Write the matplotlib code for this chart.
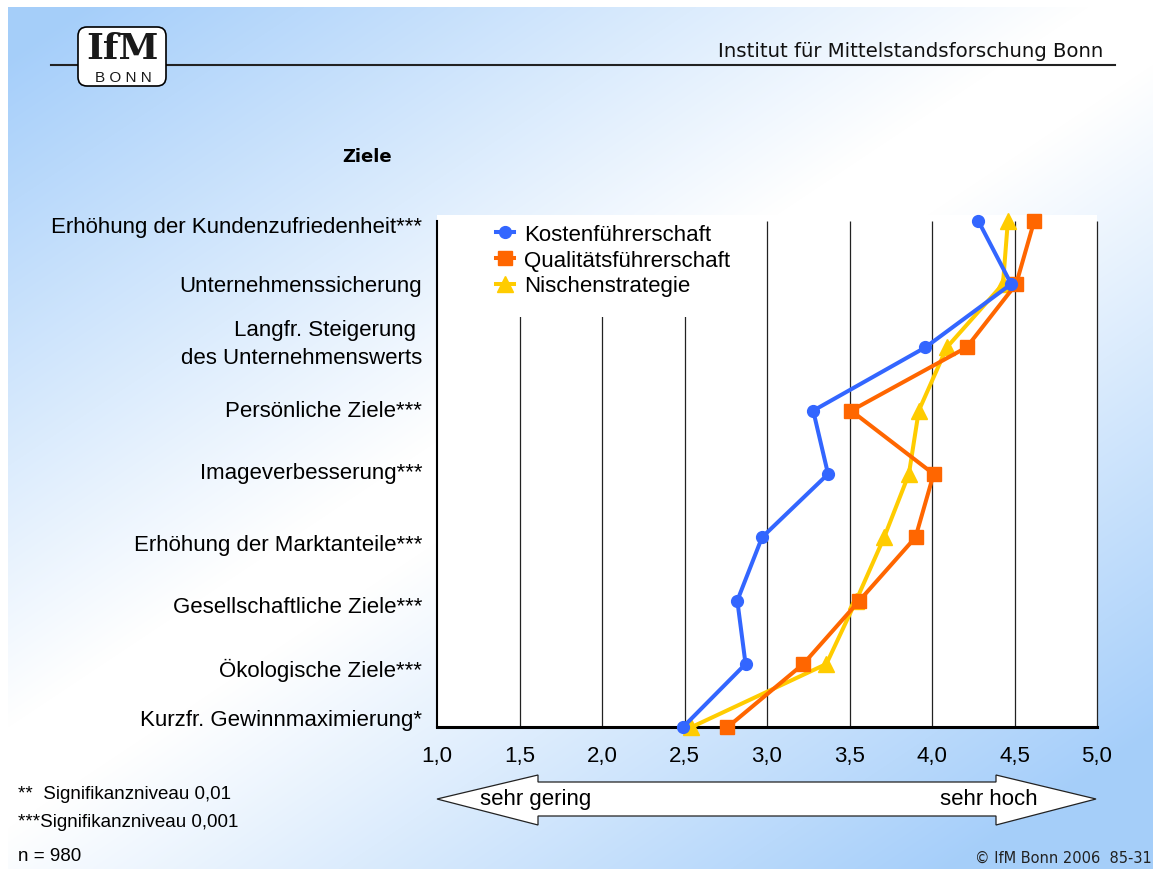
import numpy as np
import matplotlib
matplotlib.use("Agg")
import matplotlib.pyplot as plt
from matplotlib.patches import FancyBboxPatch, Polygon, Rectangle
from matplotlib.transforms import ScaledTranslation

# data
labels = ["Erhöhung der Kundenzufriedenheit***",
          "Unternehmenssicherung",
          "Langfr. Steigerung \ndes Unternehmenswerts",
          "Persönliche Ziele***",
          "Imageverbesserung***",
          "Erhöhung der Marktanteile***",
          "Gesellschaftliche Ziele***",
          "Ökologische Ziele***",
          "Kurzfr. Gewinnmaximierung*"]
kosten = [4.28, 4.48, 3.96, 3.28, 3.37, 2.97, 2.82, 2.87, 2.49]
qualitaet = [4.62, 4.51, 4.21, 3.51, 4.01, 3.90, 3.56, 3.22, 2.76]
nische = [4.46, 4.43, 4.09, 3.92, 3.86, 3.71, 3.54, 3.36, 2.54]
xticks = [1.0, 1.5, 2.0, 2.5, 3.0, 3.5, 4.0, 4.5, 5.0]
xticklabels = ["1,0", "1,5", "2,0", "2,5", "3,0", "3,5", "4,0", "4,5", "5,0"]

# label text sits a little off the rows in the original (pixels, + = down)
label_shift = [6, 1, -4, 0, -1, 7, 6, 5, -8]

W, H = 1153, 870
font = "Liberation Sans"
fig = plt.figure(figsize=(W/100, H/100), dpi=100)

# background (pixel coords)
bg = fig.add_axes([0, 0, 1, 1], zorder=0)
bg.set_xlim(0, W)
bg.set_ylim(H, 0)
bg.axis("off")
yy, xx = np.mgrid[0:H, 0:W]
s = xx + 1.5 * yy
w1 = np.clip((s - 100) / 1000, 0, 1)
w2 = np.clip((2250 - s) / 1000, 0, 1)
w = np.minimum(w1, w2)
blue = np.array([0.65, 0.81, 0.98])
img = blue + (1 - blue) * w[..., None]
img[:8, :] = 1
img[:, :8] = 1
bg.imshow(img, extent=(0, W, H, 0), aspect="auto", interpolation="bilinear")

# header
bg.plot([51, 1115], [66, 66], color="#222222", lw=1.5)
bg.text(1103, 57, "Institut für Mittelstandsforschung Bonn", ha="right", va="baseline",
        fontsize=14.2, family="DejaVu Sans", color="#111111")
logo = FancyBboxPatch((78, 28), 88, 59, boxstyle="round,pad=0,rounding_size=9",
                      fc="white", ec="black", lw=1.2, zorder=3)
bg.add_patch(logo)
bg.text(122, 59, "IfM", ha="center", va="baseline", fontsize=26,
        family="DejaVu Serif", weight="bold", color="#1a1a1a", zorder=4)
bg.text(123, 82.5, "B O N N", ha="center", va="baseline", fontsize=11,
        family="Liberation Sans", color="#1a1a1a", zorder=4)

bg.text(342, 162, "Ziele", ha="left", va="baseline", fontsize=13,
        family="DejaVu Sans", weight="bold")

# double arrow under axis
arrow = Polygon([(437, 800), (538, 776), (538, 783), (996, 783), (996, 776),
                 (1096, 800), (996, 826), (996, 817), (538, 817), (538, 826)],
                closed=True, fc="white", ec="#222222", lw=0.9)
bg.add_patch(arrow)
bg.text(480, 800, "sehr gering", ha="left", va="center", fontsize=16, family=font)
bg.text(1038, 800, "sehr hoch", ha="right", va="center", fontsize=16, family=font)

# footnotes
bg.text(18, 795, "**  Signifikanzniveau 0,01", ha="left", va="center", fontsize=13.5, family=font)
bg.text(18, 823, "***Signifikanzniveau 0,001", ha="left", va="center", fontsize=13.5, family=font)
bg.text(18, 857, "n = 980", ha="left", va="center", fontsize=13.5, family=font)
bg.text(1152, 858, "© IfM Bonn 2006  85-31", ha="right", va="center", fontsize=10.5,
        family="DejaVu Sans", color="#222222")

# chart
top_px, bot_px, row_px = 216, 728.3, 63.33
ax = fig.add_axes([437 / W, 1 - bot_px / H, 660 / W, (bot_px - top_px) / H], zorder=1)
ax.set_facecolor("white")
n = len(labels)
ypos = np.arange(n)[::-1]
ax.set_xlim(1.0, 5.0)
ax.set_ylim(0, (n - 1) + (221.7 - top_px) / row_px)

ax.vlines(xticks[1:], 0, n - 1, color="#222222", lw=0.9, zorder=1, clip_on=False)
ax.add_patch(Rectangle((0.005, 0.801), 0.47, 0.199, transform=ax.transAxes,
                       fc="white", ec="none", zorder=2))

l3, = ax.plot(nische, ypos, color="#ffcc00", lw=2.9, marker="^", ms=11,
              clip_on=False, zorder=3, label="Nischenstrategie")
l2, = ax.plot(qualitaet, ypos, color="#ff6600", lw=2.9, marker="s", ms=10,
              clip_on=False, zorder=4, label="Qualitätsführerschaft")
l1, = ax.plot(kosten, ypos, color="#3366ff", lw=2.9, marker="o", ms=8.5,
              clip_on=False, zorder=5, label="Kostenführerschaft")

leg = ax.legend(handles=[l1, l2, l3], loc="upper left",
                bbox_to_anchor=(496 / W, 1 - 225 / H), bbox_transform=fig.transFigure,
                frameon=False, borderpad=0, borderaxespad=0, handlelength=0.8,
                handletextpad=0.45, labelspacing=0.21, prop={"family": font, "size": 16})
leg.set_zorder(6)

ax.set_xticks(xticks)
ax.set_xticklabels(xticklabels, family=font, fontsize=16)
ax.set_yticks(ypos)
ax.set_yticklabels([])
ax.tick_params(axis="x", length=0, pad=12.5)
ax.tick_params(axis="y", length=0)

for lab, y, d in zip(labels, ypos, label_shift):
    tr = ax.get_yaxis_transform() + ScaledTranslation(-15 / 100, -d / 100, fig.dpi_scale_trans)
    ax.text(0, y, lab, transform=tr, ha="right", va="center", multialignment="right",
            fontsize=16, family=font, linespacing=1.45)

ax.spines["top"].set_visible(False)
ax.spines["right"].set_visible(False)
ax.spines["left"].set_bounds(0, n - 1)
ax.spines["left"].set_linewidth(1.5)
ax.spines["bottom"].set_linewidth(2.2)
ax.spines["bottom"].set_zorder(2.5)

fig.savefig("out.png", dpi=100)
